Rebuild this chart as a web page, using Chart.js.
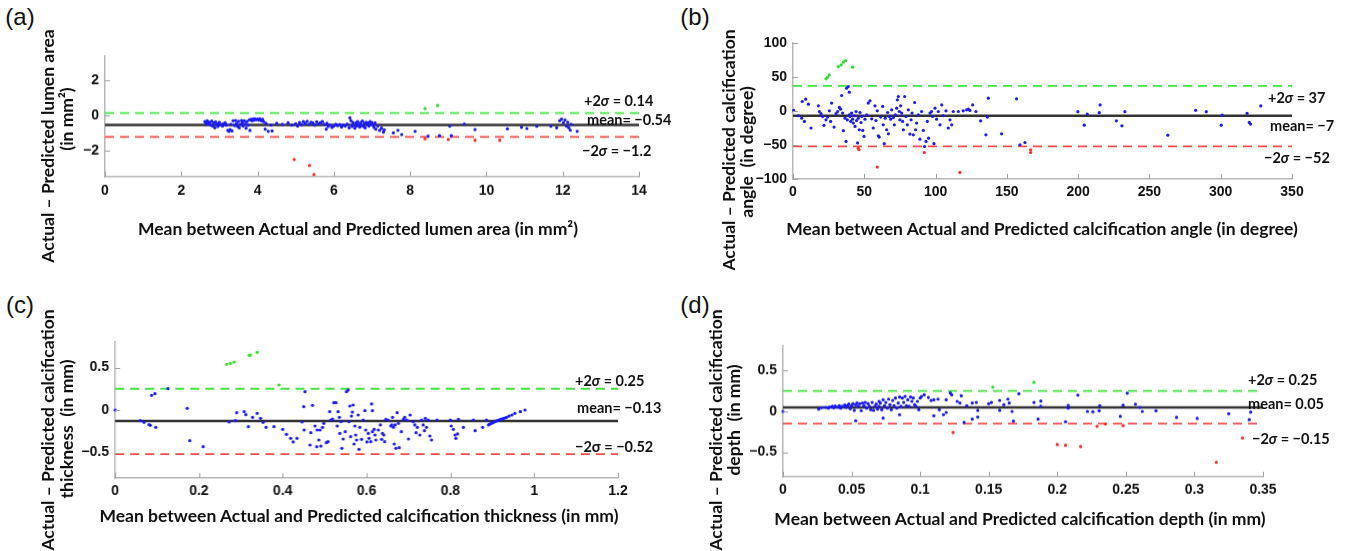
<!DOCTYPE html>
<html>
<head>
<meta charset="utf-8">
<script src="https://cdn.jsdelivr.net/npm/chart.js@4.4.0/dist/chart.umd.min.js"></script>
<style>
    body { margin: 0; background: #fff; width: 1346px; height: 551px; overflow: hidden; position: relative; }
    canvas { position: absolute; }
    .txt { position: absolute; white-space: pre; color: #111; font-family: Lato, "Liberation Sans", sans-serif; font-weight: bold; z-index: 2; }
    .letter { font-family: "Liberation Sans", sans-serif; font-weight: normal; font-size: 24px; }
    .title { font-size: 17.5px; }
    .note { font-size: 14.5px; }
</style>
</head>
<body>
<script>
// ---- (a) lumen area ----
const lumenXRange = [0, 14];
const lumenYRange = [-3.5, 3.4];
const lumenXTicks = [0, 2, 4, 6, 8, 10, 12, 14];
const lumenYTicks = [-2, 0, 2];
const lumenLimits = [0.14, -0.54, -1.22]; // +2σ, mean, −2σ
const lumenBlue = [
    [2.62,-0.35],[2.65,-0.45],[2.68,-0.3],[2.7,-0.5],[2.72,-0.4],[2.75,-0.38],[2.78,-0.55],[2.8,-0.32],
    [2.82,-0.6],[2.85,-0.42],[2.88,-0.7],[2.9,-0.36],[2.93,-0.5],[2.96,-0.62],[2.98,-0.45],[3.0,-0.38],
    [3.05,-0.52],[3.08,-0.6],[3.1,-0.47],[3.15,-0.41],[3.18,-0.55],[3.22,-0.85],[3.25,-0.9],[3.28,-0.8],
    [3.3,-0.5],[3.33,-0.88],[3.36,-0.3],[3.4,-0.58],[3.42,-0.28],[3.45,-0.45],[3.48,-0.62],[3.5,-0.33],
    [3.52,-0.7],[3.55,-0.5],[3.58,-0.28],[3.6,-0.42],[3.62,-0.6],[3.65,-0.3],[3.68,-0.48],[3.7,-0.72],
    [3.72,-0.35],[3.75,-0.55],[3.78,-0.25],[3.8,-0.85],[3.82,-0.22],[3.85,-0.3],[3.88,-0.2],[3.9,-0.27],
    [3.93,-0.18],[3.96,-0.24],[4.0,-0.2],[4.03,-0.26],[4.06,-0.19],[4.1,-0.3],[4.13,-0.22],[4.16,-0.35],
    [4.2,-0.78],[4.22,-0.45],[4.28,-0.9],[4.35,-0.55],[4.38,-0.88],[4.5,-0.45],[4.65,-0.5],[4.8,-0.42],
    [4.9,-0.55],[5.0,-0.47],[5.05,-0.6],[5.1,-0.4],[5.15,-0.52],[5.2,-0.35],[5.25,-0.45],[5.3,-0.33],
    [5.35,-0.5],[5.4,-0.38],[5.45,-0.42],[5.5,-0.55],[5.55,-0.36],[5.6,-0.48],[5.65,-0.4],[5.7,-0.35],
    [5.75,-0.5],[5.8,-0.78],[5.82,-0.45],[5.85,-0.62],[5.9,-0.55],[5.95,-0.68],[6.0,-0.6],[6.05,-0.5],
    [6.1,-0.58],[6.15,-0.52],[6.2,-0.66],[6.25,-0.55],[6.3,-0.6],[6.35,-0.48],[6.4,-0.7],[6.42,-0.13],
    [6.45,-0.3],[6.48,-0.62],[6.5,-0.4],[6.52,-0.55],[6.55,-0.72],[6.58,-0.42],[6.6,-0.6],[6.62,-0.35],
    [6.65,-0.5],[6.68,-0.66],[6.7,-0.4],[6.72,-0.56],[6.75,-0.32],[6.78,-0.62],[6.8,-0.45],[6.82,-0.7],
    [6.85,-0.38],[6.88,-0.52],[6.9,-0.42],[6.92,-0.6],[6.95,-0.35],[6.98,-0.48],[7.0,-0.4],[7.03,-0.55],
    [7.05,-0.68],[7.08,-0.42],[7.1,-0.78],[7.15,-0.6],[7.2,-0.85],[7.25,-0.72],[7.3,-0.95],[7.32,-0.82],
    [7.56,-0.99],[7.68,-0.84],[7.78,-1.09],[8.13,-0.9],[8.47,-1.18],[8.77,-1.15],[9.04,-0.61],[9.08,-1.15],
    [9.42,-0.48],[9.7,-0.8],[10.55,-0.76],[10.92,-0.67],[11.06,-0.74],[11.32,-0.61],[11.69,-0.61],[11.84,-0.7],
    [11.92,-0.3],[11.97,-0.2],[12.02,-0.4],[12.06,-0.25],[12.1,-0.61],[12.13,-0.38],[12.16,-0.7],[12.2,-0.84],
    [12.22,-0.5],[12.38,-0.9]
];
const lumenGreen = [[8.39,0.4],[8.72,0.57]];
const lumenRed = [[4.96,-2.51],[5.36,-2.86],[5.48,-3.37],[8.39,-1.33],[9.0,-1.37],[9.7,-1.41],[10.35,-1.41]];

// ---- (b) calcification angle ----
const angleXRange = [0, 350];
const angleYRange = [-100, 100];
const angleXTicks = [0, 50, 100, 150, 200, 250, 300, 350];
const angleYTicks = [-100, -50, 0, 50, 100];
const angleLimits = [37, -7, -52];
const angleBlue = [
    [0.5,0.8],[3.7,-7],[6.1,-10.5],[8,-15.4],[6.5,14],[8.9,17.4],[10.8,10],[12.6,-25],[17.8,7.6],[18.5,-0.7],
    [19.6,-4],[20.8,-8],[21.7,-21],[23.1,-13],[24.3,-9],[25.5,0.3],[26.4,-15.4],[27.1,11.6],[28.8,-23.7],
    [30.2,-4],[31.3,-0.7],[32.5,5.2],[33.4,2.7],[34.1,22.8],[34.8,-3.1],[35.3,-29],[36.5,-10.5],[37.2,-44.8],
    [37.6,33.6],[38.8,36],[39.5,27.7],[38.1,-13],[39.5,-5.7],[40,-8],[40.5,-15.4],[41.1,-3.1],[41.8,-12],
    [42.3,-17.8],[43,-7],[43.5,-22.7],[44.2,-0.7],[44.6,-14],[45.3,-47],[45.8,-10.5],[46.5,-27.6],[47,-2.2],
    [47.7,-16.9],[48.2,-8],[48.9,-28.6],[49.8,-37.4],[50.5,-12],[51.7,-5.7],[52.8,11.6],[54,14.9],[55.2,-11.5],
    [56.3,-25],[57.5,7.6],[58.2,-14],[59.1,0.3],[59.8,-36.5],[60.5,-38.4],[61.5,-9],[62.9,6.7],[63.3,-20.3],
    [64,-48.1],[64.7,-10.5],[65.7,-27.6],[66.4,-2.2],[66.9,-33.6],[67.6,-8],[68.5,-12],[69.2,1.8],[70.4,-9.6],
    [71.1,-20.3],[71.8,-5.7],[72.7,4.2],[73.2,16.4],[73.9,21.3],[74.6,-0.7],[75,-13],[75.5,7.6],[76.2,-3.1],
    [76.9,-15.4],[77.4,-27.6],[78.3,21.3],[79.2,-8],[80.2,-20.3],[80.9,1.8],[82,-34],[82.8,-13],[83.5,-3.1],
    [84.4,-35],[85.3,12.5],[86,-27.6],[86.7,-17.8],[87.9,-5.7],[89,-41.4],[90.2,-0.7],[91.4,-28.6],[92.3,-52.2],
    [93.3,-44.8],[94.2,-15.4],[95.1,-40],[96.1,-3.1],[97.2,-0.7],[97.9,-8],[98.9,-48.1],[99.6,4.2],[100.7,-12],
    [101.9,-0.7],[103.1,-20.3],[104.3,9],[105.4,-7],[107.3,0.3],[108.9,-25],[110.1,-13],[111.3,-20.3],[112.4,-0.7],
    [116,-0.7],[119.4,0.3],[121.8,1.8],[123,2.7],[124.1,0.8],[126,9],[128.3,-0.7],[131.6,-14.5],[135.3,-35],
    [136.3,-9],[137,18.9],[146.3,-33.6],[156.8,17.9],[159.2,-49.6],[162.7,-46.3],[199.8,-1],[204.3,-20.8],
    [206.4,-4.5],[214.8,-2.5],[215.4,8.9],[226.8,-14.4],[230.7,-21.8],[232.8,-1],[262.9,-35.6],[282.4,1],
    [289.9,-1],[300.4,-20.8],[301,-5.9],[318.5,-3.5],[320,-16.8],[320.9,-19.3],[328.1,7.4]
];
const angleGreen = [[23.1,47.3],[24.3,49.5],[25.5,53.2],[31.8,65.4],[33.7,67.8],[35.3,71.8],[36.9,74.2],[41.8,64.4]];
const angleRed = [[45.8,-54.6],[46.3,-57],[92.1,-61],[59.1,-82.5],[117.1,-90.3],[166.7,-57],[166.7,-61]];

// ---- (c) calcification thickness ----
const thickXRange = [0, 1.2];
const thickYRange = [-0.8, 0.8];
const thickXTicks = [0, 0.2, 0.4, 0.6, 0.8, 1, 1.2];
const thickYTicks = [-0.5, 0, 0.5];
const thickLimits = [0.25, -0.13, -0.52];
const thickBlue = [
    [0,0],[0.06,-0.125],[0.069,-0.145],[0.081,-0.173],[0.084,-0.18],[0.087,0.173],[0.095,0.192],[0.097,-0.204],
    [0.126,0.251],[0.172,0.02],[0.178,-0.361],[0.21,-0.431],[0.272,-0.141],[0.287,-0.125],[0.29,-0.031],
    [0.308,-0.02],[0.312,-0.055],[0.318,-0.196],[0.328,-0.086],[0.339,-0.039],[0.347,-0.098],[0.353,-0.145],
    [0.36,-0.204],[0.379,-0.196],[0.4,-0.227],[0.409,-0.286],[0.419,-0.333],[0.425,-0.376],[0.434,-0.333],
    [0.446,-0.141],[0.45,0.039],[0.453,0.216],[0.451,-0.235],[0.465,-0.412],[0.467,-0.267],[0.471,0.055],
    [0.477,-0.188],[0.481,-0.431],[0.482,-0.235],[0.486,-0.353],[0.489,-0.235],[0.491,-0.424],[0.495,-0.204],
    [0.498,-0.157],[0.504,-0.384],[0.508,-0.373],[0.512,-0.02],[0.515,-0.118],[0.519,-0.106],[0.522,0.086],
    [0.527,0.086],[0.53,-0.188],[0.532,-0.02],[0.535,-0.086],[0.536,-0.275],[0.539,-0.137],[0.541,-0.451],
    [0.544,-0.341],[0.549,-0.255],[0.552,0.216],[0.556,0.235],[0.558,-0.137],[0.56,0.047],[0.562,-0.314],
    [0.564,-0.071],[0.566,-0.024],[0.568,0.059],[0.57,-0.4],[0.572,-0.188],[0.574,-0.294],[0.576,-0.353],
    [0.58,-0.059],[0.582,-0.463],[0.584,-0.204],[0.588,-0.345],[0.592,-0.118],[0.596,-0.008],[0.598,-0.235],
    [0.601,-0.376],[0.604,-0.275],[0.606,-0.333],[0.61,-0.373],[0.612,0.071],[0.614,-0.008],[0.614,-0.255],
    [0.618,-0.227],[0.62,-0.294],[0.622,-0.353],[0.628,-0.235],[0.633,-0.176],[0.636,-0.345],[0.638,-0.275],
    [0.641,-0.294],[0.643,-0.373],[0.646,-0.11],[0.651,-0.118],[0.658,-0.188],[0.66,-0.176],[0.662,-0.086],
    [0.664,-0.204],[0.666,-0.4],[0.668,-0.176],[0.67,-0.451],[0.673,-0.031],[0.676,-0.157],[0.678,-0.443],
    [0.683,-0.255],[0.688,-0.11],[0.691,-0.086],[0.696,-0.118],[0.7,-0.341],[0.704,-0.059],[0.711,-0.137],
    [0.715,-0.176],[0.718,-0.267],[0.721,-0.204],[0.727,-0.294],[0.731,-0.118],[0.735,-0.176],[0.738,-0.243],
    [0.74,-0.098],[0.743,-0.204],[0.747,-0.118],[0.751,-0.306],[0.755,-0.353],[0.768,-0.118],[0.8,-0.118],
    [0.802,-0.188],[0.807,-0.227],[0.811,-0.294],[0.813,-0.333],[0.817,-0.282],[0.819,-0.11],[0.831,-0.204],
    [0.855,-0.118],[0.859,-0.243],[0.877,-0.204],[0.886,-0.118],[0.891,-0.176],[0.894,-0.165],[0.898,-0.157],
    [0.902,-0.149],[0.906,-0.137],[0.91,-0.129],[0.914,-0.122],[0.918,-0.114],[0.922,-0.106],[0.926,-0.102],
    [0.93,-0.094],[0.934,-0.086],[0.94,-0.071],[0.947,-0.059],[0.954,-0.039],[0.967,-0.02],[0.978,0]
];
const thickGreen = [[0.266,0.537],[0.275,0.549],[0.284,0.565],[0.32,0.643],[0.323,0.647],[0.339,0.678],[0.391,0.294]];
const thickRed = [];

// ---- (d) calcification depth ----
const depthXRange = [0, 0.35];
const depthYRange = [-0.8, 0.8];
const depthXTicks = [0, 0.05, 0.1, 0.15, 0.2, 0.25, 0.3, 0.35];
const depthYTicks = [-0.5, 0, 0.5];
const depthLimits = [0.25, 0.05, -0.15];
const depthBlue = [
    [0,0],[0.026,0.029],[0.028,0.045],[0.031,0.049],[0.033,0.041],[0.034,0.053],[0.036,0.062],[0.037,0.045],
    [0.038,0.066],[0.04,0.053],[0.041,0.07],[0.042,0.041],[0.043,0.062],[0.045,0.078],[0.046,0.049],[0.047,0.07],
    [0.048,0.09],[0.049,0.033],[0.05,0.07],[0.051,0.094],[0.052,0.013],[0.053,0.082],[0.053,-0.114],[0.054,0.102],
    [0.055,0.062],[0.056,0.094],[0.057,0.009],[0.058,0.102],[0.059,0.07],[0.06,0.11],[0.061,0.041],[0.062,0.094],
    [0.063,0.062],[0.064,0.021],[0.065,0.11],[0.066,0.013],[0.067,0.062],[0.068,0.09],[0.069,0.029],[0.07,0.123],
    [0.07,0.062],[0.071,0.102],[0.072,0.021],[0.073,0.143],[0.073,-0.082],[0.074,0.07],[0.075,0.11],[0.076,0.041],
    [0.077,0.151],[0.078,0.082],[0.079,0.021],[0.08,0.135],[0.081,0.07],[0.082,0.164],[0.083,0.041],[0.084,0.102],
    [0.085,0.176],[0.085,-0.04],[0.086,0.062],[0.087,0.164],[0.088,0.11],[0.089,0.184],[0.09,0.07],[0.091,0.143],
    [0.092,0.062],[0.093,0.176],[0.094,0.123],[0.095,0.164],[0.096,0.082],[0.097,0.062],[0.098,0.123],[0.099,0.021],
    [0.1,0.164],[0.101,0.184],[0.103,0.204],[0.106,0.171],[0.108,0.135],[0.11,0.143],[0.11,-0.053],[0.113,0.151],
    [0.114,0.021],[0.117,-0.04],[0.119,-0.012],[0.119,0.143],[0.122,0.225],[0.123,0.204],[0.127,0.123],[0.129,0.102],
    [0.13,0.192],[0.132,-0.135],[0.134,0.07],[0.138,-0.094],[0.138,0.102],[0.141,0.11],[0.142,-0.069],[0.142,0.013],
    [0.15,0.094],[0.152,0.11],[0.158,0.013],[0.158,0.135],[0.161,0.082],[0.164,0.151],[0.165,0.102],[0.167,0],
    [0.168,-0.118],[0.172,0.216],[0.183,0.11],[0.186,-0.094],[0.188,0.127],[0.188,0.062],[0.206,-0.126],
    [0.208,0.074],[0.208,0.041],[0.215,0.2],[0.222,0],[0.226,-0.004],[0.2305,0.008],[0.231,0.069],[0.246,-0.061],
    [0.248,0.077],[0.251,0.224],[0.257,0.089],[0.26,0.049],[0.262,0],[0.272,0.008],[0.287,-0.073],[0.302,-0.085],
    [0.325,-0.028],[0.34,-0.1],[0.341,-0.008]
];
const depthGreen = [[0.153,0.298],[0.183,0.355]];
const depthRed = [[0.124,-0.257],[0.2,-0.405],[0.206,-0.415],[0.217,-0.43],[0.229,-0.183],[0.235,-0.154],
    [0.248,-0.175],[0.316,-0.622],[0.335,-0.325]];

// ---- layout (pixel boxes of each plot area and text placement) ----
const panels = [
    { area: { l: 105, t: 56.25, r: 639, b: 177 }, xRange: lumenXRange, yRange: lumenYRange, xTicks: lumenXTicks,
      yTicks: lumenYTicks, limits: lumenLimits, blue: lumenBlue, green: lumenGreen, red: lumenRed, xPad: 6 },
    { area: { l: 793, t: 43.1, r: 1292, b: 179.3 }, xRange: angleXRange, yRange: angleYRange, xTicks: angleXTicks,
      yTicks: angleYTicks, limits: angleLimits, blue: angleBlue, green: angleGreen, red: angleRed, xPad: 5 },
    { area: { l: 115.3, t: 342, r: 618, b: 478 }, xRange: thickXRange, yRange: thickYRange, xTicks: thickXTicks,
      yTicks: thickYTicks, limits: thickLimits, blue: thickBlue, green: thickGreen, red: thickRed, xPad: 5 },
    { area: { l: 783, t: 346.3, r: 1263, b: 477.1 }, xRange: depthXRange, yRange: depthYRange, xTicks: depthXTicks,
      yTicks: depthYTicks, limits: depthLimits, blue: depthBlue, green: depthGreen, red: depthRed, xPad: 5 },
];

const letters = [["(a)", 20, 17], ["(b)", 695, 17], ["(c)", 20, 305], ["(d)", 695, 305]];
const xTitles = [
    ["Mean between Actual and Predicted lumen area (in mm\u00b2)", 358, 228],
    ["Mean between Actual and Predicted calcification angle (in degree)", 1042, 228],
    ["Mean between Actual and Predicted calcification thickness (in mm)", 359, 515],
    ["Mean between Actual and Predicted calcification depth (in mm)", 1020, 518],
];
const yTitles = [
    ["Actual \u2013 Predicted lumen area", 47, 146], ["(in mm\u00b2)", 66, 119],
    ["Actual \u2013 Predicted calcification", 728, 150], ["angle  (in degree)", 746, 152],
    ["Actual \u2013 Predicted calcification", 47, 430], ["thickness  (in mm)", 66, 429],
    ["Actual \u2013 Predicted calcification", 715, 430], ["depth  (in mm)", 733, 420],
];
const notes = [
    ["+2<i>\u03c3</i> = 0.14", 584, 100], ["mean= \u22120.54", 587, 119], ["\u22122<i>\u03c3</i> = \u22121.2", 582, 150],
    ["+2<i>\u03c3</i> = 37", 1268, 97], ["mean= \u22127", 1270, 125], ["\u22122<i>\u03c3</i> = \u221252", 1264, 157],
    ["+2<i>\u03c3</i> = 0.25", 575, 380], ["mean= \u22120.13", 577, 407], ["\u22122\u03c3 = \u22120.52", 575, 446],
    ["+2<i>\u03c3</i> = 0.25", 1248, 379], ["mean= 0.05", 1248, 403], ["\u22122<i>\u03c3</i> = \u22120.15", 1252, 438],
];

function addText(html, x, y, cls, transform) {
    const el = document.createElement("div");
    el.className = "txt " + cls;
    el.innerHTML = html;
    el.style.left = x + "px";
    el.style.top = y + "px";
    el.style.transform = transform;
    document.body.appendChild(el);
}

letters.forEach(([t, x, y]) => addText(t, x, y, "letter", "translate(-50%,-50%)"));
xTitles.forEach(([t, x, y]) => addText(t, x, y, "title", "translate(-50%,-50%)"));
yTitles.forEach(([t, x, y]) => addText(t, x, y, "title", "translate(-50%,-50%) rotate(-90deg)"));
notes.forEach(([t, x, y]) => addText(t, x, y, "note", "translate(0,-50%)"));

// MATLAB-style ticks pointing into the plot
const inwardTicks = {
    id: "inwardTicks",
    afterDraw(chart) {
        const { ctx, chartArea: a, scales: { x, y } } = chart;
        ctx.save();
        ctx.strokeStyle = "#a0a0a0";
        ctx.lineWidth = 1;
        ctx.beginPath();
        x.ticks.forEach((t) => {
            const p = Math.round(x.getPixelForValue(t.value)) + 0.5;
            ctx.moveTo(p, a.bottom);
            ctx.lineTo(p, a.bottom - 5);
        });
        y.ticks.forEach((t) => {
            const p = Math.round(y.getPixelForValue(t.value)) + 0.5;
            ctx.moveTo(a.left, p);
            ctx.lineTo(a.left + 5, p);
        });
        ctx.stroke();
        ctx.restore();
    },
};

const fmt = (v) => String(v).replace("-", "\u2212");
const tickFont = { family: "'Liberation Sans', Arial, sans-serif", size: 14, weight: "bold" };
const PAD = 20, YW = 60, XH = 40;

function limitLine(range, value, color, width, dash) {
    return {
        data: [{ x: range[0], y: value }, { x: range[1], y: value }],
        showLine: true, borderColor: color, borderWidth: width, borderDash: dash,
        pointRadius: 0, clip: false,
    };
}

function dots(points, color) {
    return {
        data: points.map(([x, y]) => ({ x, y })),
        backgroundColor: color, borderWidth: 0, pointRadius: 1.6, clip: 4,
    };
}

panels.forEach((p) => {
    const canvas = document.createElement("canvas");
    const w = (p.area.r - p.area.l) + YW + 2 * PAD;
    const h = (p.area.b - p.area.t) + XH + 2 * PAD;
    canvas.width = w;
    canvas.height = h;
    canvas.style.width = w + "px";
    canvas.style.height = h + "px";
    canvas.style.left = (p.area.l - PAD - YW) + "px";
    canvas.style.top = (p.area.t - PAD) + "px";
    document.body.appendChild(canvas);

    const chart = new Chart(canvas, {
        type: "scatter",
        data: {
            datasets: [
                dots(p.blue, "#1a1aff"),
                dots(p.green, "#2fdc2f"),
                dots(p.red, "#ff2b2b"),
                limitLine(p.xRange, p.limits[0], "#3ee83e", 1.8, [9, 6]),
                limitLine(p.xRange, p.limits[2], "#ff4a4a", 1.8, [9, 6]),
                limitLine(p.xRange, p.limits[1], "#333", 2.4, []),
            ],
        },
        options: {
            responsive: false,
            animation: false,
            events: [],
            layout: { padding: PAD },
            plugins: { legend: { display: false }, tooltip: { enabled: false } },
            scales: {
                x: {
                    type: "linear", min: p.xRange[0], max: p.xRange[1],
                    afterBuildTicks: (s) => { s.ticks = p.xTicks.map((v) => ({ value: v })); },
                    afterFit: (s) => { s.height = XH; },
                    grid: { display: true, drawOnChartArea: false, drawTicks: false },
                    border: { display: true, color: "#b8b8b8", width: 1.5 },
                    ticks: { padding: p.xPad, font: tickFont, color: "#111", maxRotation: 0, autoSkip: false, callback: fmt },
                },
                y: {
                    type: "linear", min: p.yRange[0], max: p.yRange[1],
                    afterBuildTicks: (s) => { s.ticks = p.yTicks.map((v) => ({ value: v })); },
                    afterFit: (s) => { s.width = YW; },
                    grid: { display: true, drawOnChartArea: false, drawTicks: false },
                    border: { display: true, color: "#b8b8b8", width: 1.5 },
                    ticks: { padding: 6, font: tickFont, color: "#111", autoSkip: false, callback: fmt },
                },
            },
        },
        plugins: [inwardTicks],
    });

    // shift the canvas so the plot area lands exactly on its box
    const ca = chart.chartArea;
    canvas.style.left = (p.area.l - ca.left) + "px";
    canvas.style.top = (p.area.t - ca.top) + "px";
});
</script>
</body>
</html>
